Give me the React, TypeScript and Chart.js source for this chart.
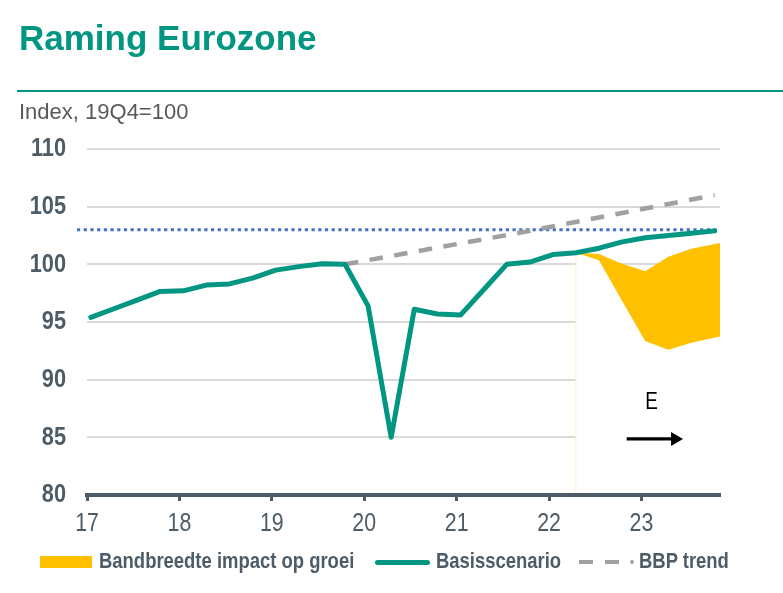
import React, { useEffect, useRef } from 'react';
import { Chart, registerables } from 'chart.js';

Chart.register(...registerables);

// ---------- data ----------
const QUARTERS = [
  '17Q1', '17Q2', '17Q3', '17Q4',
  '18Q1', '18Q2', '18Q3', '18Q4',
  '19Q1', '19Q2', '19Q3', '19Q4',
  '20Q1', '20Q2', '20Q3', '20Q4',
  '21Q1', '21Q2', '21Q3', '21Q4',
  '22Q1', '22Q2', '22Q3', '22Q4',
  '23Q1', '23Q2', '23Q3', '23Q4',
];
const BASIS = [
  95.4, 96.15, 96.9, 97.65,
  97.7, 98.2, 98.3, 98.8,
  99.5, 99.8, 100.05, 100.0,
  96.4, 85.0, 96.1, 95.7,
  95.6, 97.8, 100.0, 100.2,
  100.85, 101.0, 101.4, 101.95,
  102.3, 102.5, 102.7, 102.9,
];
const TREND_QUARTERS = ['19Q4', '20Q4', '21Q4', '22Q4', '23Q4'];
const TREND = [100.0, 101.45, 102.9, 104.45, 106.0];

// band (decimal years)
const BAND_X = [22.29, 22.54, 22.79, 23.04, 23.29, 23.54, 23.85];
const BAND_UPPER = [101.0, 100.9, 100.05, 99.4, 100.65, 101.35, 101.85];
const BAND_LOWER = [101.0, 100.35, 96.85, 93.35, 92.6, 93.2, 93.75];

const YEAR_TICKS = [17, 18, 19, 20, 21, 22, 23];
const Y_TICKS = [80, 85, 90, 95, 100, 105, 110];
const REFERENCE_LEVEL = 103;
const FORECAST_START = 22.29;

const E_LABEL = { text: 'E', x: 23.11, y: 88.0 };
const ARROW = { from: 22.84, to: 23.45, y: 84.86 };

const LEGEND_LABELS = ['Bandbreedte impact op groei', 'Basisscenario', 'BBP trend'];

// ---------- style ----------
const TEAL = '#009682';
const SLATE = '#4E5C67';
const GOLD = '#FFC000';
const GREY = '#A0A0A0';
const BLUE = '#4472C4';
const SANS = '"Liberation Sans", Arial, sans-serif';
const NARROW_SCALE = 0.82;

// quarter label -> decimal year (mid of first month of the quarter)
const qx = (q: string) => Number(q.slice(0, 2)) + (Number(q.slice(3)) - 1) / 4 + 1 / 24;

function narrowText(ctx: CanvasRenderingContext2D, text: string, x: number, y: number, align: CanvasTextAlign) {
  ctx.save();
  ctx.translate(x, y);
  ctx.scale(NARROW_SCALE, 1);
  ctx.textAlign = align;
  ctx.textBaseline = 'middle';
  ctx.fillText(text, 0, 0);
  ctx.restore();
}

const annotations = {
  id: 'annotations',
  beforeDatasetsDraw(chart: any) {
    const { ctx, chartArea, scales } = chart;
    const y = scales.y.getPixelForValue(REFERENCE_LEVEL);
    ctx.save();
    ctx.strokeStyle = BLUE;
    ctx.lineWidth = 3;
    ctx.setLineDash([3.2, 3.5]);
    ctx.beginPath();
    ctx.moveTo(chartArea.left - 10, y);
    ctx.lineTo(chartArea.right, y);
    ctx.stroke();
    ctx.restore();
  },
  afterDatasetsDraw(chart: any) {
    const { ctx, scales } = chart;
    ctx.save();
    ctx.fillStyle = '#000';
    ctx.font = `23px ${SANS}`;
    narrowText(ctx, E_LABEL.text, scales.x.getPixelForValue(E_LABEL.x), scales.y.getPixelForValue(E_LABEL.y), 'center');
    const x1 = scales.x.getPixelForValue(ARROW.from);
    const x2 = scales.x.getPixelForValue(ARROW.to);
    const ay = scales.y.getPixelForValue(ARROW.y);
    ctx.strokeStyle = '#000';
    ctx.lineWidth = 3.3;
    ctx.beginPath();
    ctx.moveTo(x1, ay);
    ctx.lineTo(x2 - 10, ay);
    ctx.stroke();
    ctx.beginPath();
    ctx.moveTo(x2, ay);
    ctx.lineTo(x2 - 12, ay - 7);
    ctx.lineTo(x2 - 12, ay + 7);
    ctx.closePath();
    ctx.fill();
    ctx.restore();
  },
  afterDraw(chart: any) {
    const { ctx, chartArea, scales } = chart;
    ctx.save();
    ctx.fillStyle = SLATE;
    ctx.font = `bold 26.5px ${SANS}`;
    for (const v of Y_TICKS) {
      narrowText(ctx, String(v), chartArea.left - 21, scales.y.getPixelForValue(v), 'right');
    }
    ctx.font = `26px ${SANS}`;
    for (const v of YEAR_TICKS) {
      narrowText(ctx, String(v), scales.x.getPixelForValue(v), scales.x.top + 29, 'center');
    }
    ctx.restore();
  },
};

export default function App() {
  const ref = useRef<HTMLCanvasElement | null>(null);

  useEffect(() => {
    if (!ref.current) return;
    const chart = new Chart(ref.current, {
      type: 'line',
      data: {
        datasets: [
          {
            label: LEGEND_LABELS[1],
            data: QUARTERS.map((q, i) => ({ x: qx(q), y: BASIS[i] })),
            borderColor: TEAL,
            borderWidth: 5,
            borderCapStyle: 'round',
            borderJoinStyle: 'round',
            pointRadius: 0,
            fill: false,
            tension: 0,
          },
          {
            label: LEGEND_LABELS[2],
            data: TREND_QUARTERS.map((q, i) => ({ x: qx(q), y: TREND[i] })),
            borderColor: GREY,
            borderWidth: 4.5,
            borderDash: [13.5, 11.5],
            pointRadius: 0,
            fill: false,
            tension: 0,
          },
          {
            label: 'forecast start',
            data: [{ x: FORECAST_START, y: 80 }, { x: FORECAST_START, y: BAND_UPPER[0] }],
            borderColor: '#FFF0C4',
            borderWidth: 1,
            pointRadius: 0,
            fill: false,
          },
          {
            label: LEGEND_LABELS[0],
            data: BAND_X.map((x, i) => ({ x, y: BAND_UPPER[i] })),
            borderWidth: 0,
            borderColor: 'rgba(0,0,0,0)',
            backgroundColor: GOLD,
            pointRadius: 0,
            fill: '+1',
            tension: 0,
          },
          {
            label: 'band floor',
            data: BAND_X.map((x, i) => ({ x, y: BAND_LOWER[i] })),
            borderWidth: 0,
            borderColor: 'rgba(0,0,0,0)',
            backgroundColor: '#FFFFFF',
            pointRadius: 0,
            fill: 'start',
            tension: 0,
          },
        ],
      },
      options: {
        animation: false,
        responsive: false,
        events: [],
        layout: { padding: { left: 0, right: 63, top: 149, bottom: 38 } },
        plugins: {
          legend: { display: false },
          tooltip: { enabled: false },
          title: { display: false },
        },
        scales: {
          x: {
            type: 'linear',
            min: 17,
            max: 23.85,
            afterBuildTicks: (s: any) => {
              s.ticks = YEAR_TICKS.map((v) => ({ value: v }));
            },
            afterFit: (s: any) => {
              s.height = 60;
            },
            grid: {
              display: true,
              drawOnChartArea: false,
              drawTicks: true,
              tickLength: 6,
              tickWidth: 3,
              tickColor: SLATE,
            },
            border: { display: true, color: SLATE, width: 4, z: 1 },
            ticks: { display: false },
          },
          y: {
            type: 'linear',
            min: 80,
            max: 110,
            afterBuildTicks: (s: any) => {
              s.ticks = Y_TICKS.map((v) => ({ value: v }));
            },
            afterFit: (s: any) => {
              s.width = 87;
            },
            grid: { color: '#D9D9D9', lineWidth: 2, drawTicks: false },
            border: { display: false },
            ticks: { display: false },
          },
        },
      },
      plugins: [annotations],
    } as any);
    return () => chart.destroy();
  }, []);

  const legendText: React.CSSProperties = {
    position: 'absolute',
    top: 550,
    fontFamily: SANS,
    fontWeight: 'bold',
    fontSize: 22.5,
    lineHeight: '22px',
    color: SLATE,
    whiteSpace: 'nowrap',
    transform: `scaleX(${NARROW_SCALE})`,
    transformOrigin: 'left center',
  };

  return (
    <div style={{ position: 'absolute', left: 0, top: 0, width: 783, height: 593, background: '#fff', overflow: 'hidden' }}>
      <canvas ref={ref} width={783} height={593} style={{ position: 'absolute', left: 0, top: 0, width: 783, height: 593 }} />
      <div style={{ position: 'absolute', left: 19, top: 20, fontFamily: SANS, fontWeight: 'bold', fontSize: 35, lineHeight: '35px', color: TEAL, whiteSpace: 'nowrap' }}>
        Raming Eurozone
      </div>
      <div style={{ position: 'absolute', left: 17, right: 0, top: 90, height: 2, background: TEAL }} />
      <div style={{ position: 'absolute', left: 19, top: 101, fontFamily: SANS, fontSize: 22, lineHeight: '22px', color: '#595959', whiteSpace: 'nowrap' }}>
        Index, 19Q4=100
      </div>
      {/* legend */}
      <div style={{ position: 'absolute', left: 40, top: 556, width: 52, height: 11.5, background: GOLD }} />
      <div style={{ ...legendText, left: 99 }}>{LEGEND_LABELS[0]}</div>
      <div style={{ position: 'absolute', left: 375, top: 559.5, width: 55, height: 5, borderRadius: 2.5, background: TEAL }} />
      <div style={{ ...legendText, left: 436 }}>{LEGEND_LABELS[1]}</div>
      <div style={{ position: 'absolute', left: 579, top: 559.5, width: 14, height: 4.5, background: GREY }} />
      <div style={{ position: 'absolute', left: 605, top: 559.5, width: 14, height: 4.5, background: GREY }} />
      <div style={{ position: 'absolute', left: 630, top: 559.5, width: 4, height: 4.5, borderRadius: 2, background: GREY }} />
      <div style={{ ...legendText, left: 639 }}>{LEGEND_LABELS[2]}</div>
    </div>
  );
}
